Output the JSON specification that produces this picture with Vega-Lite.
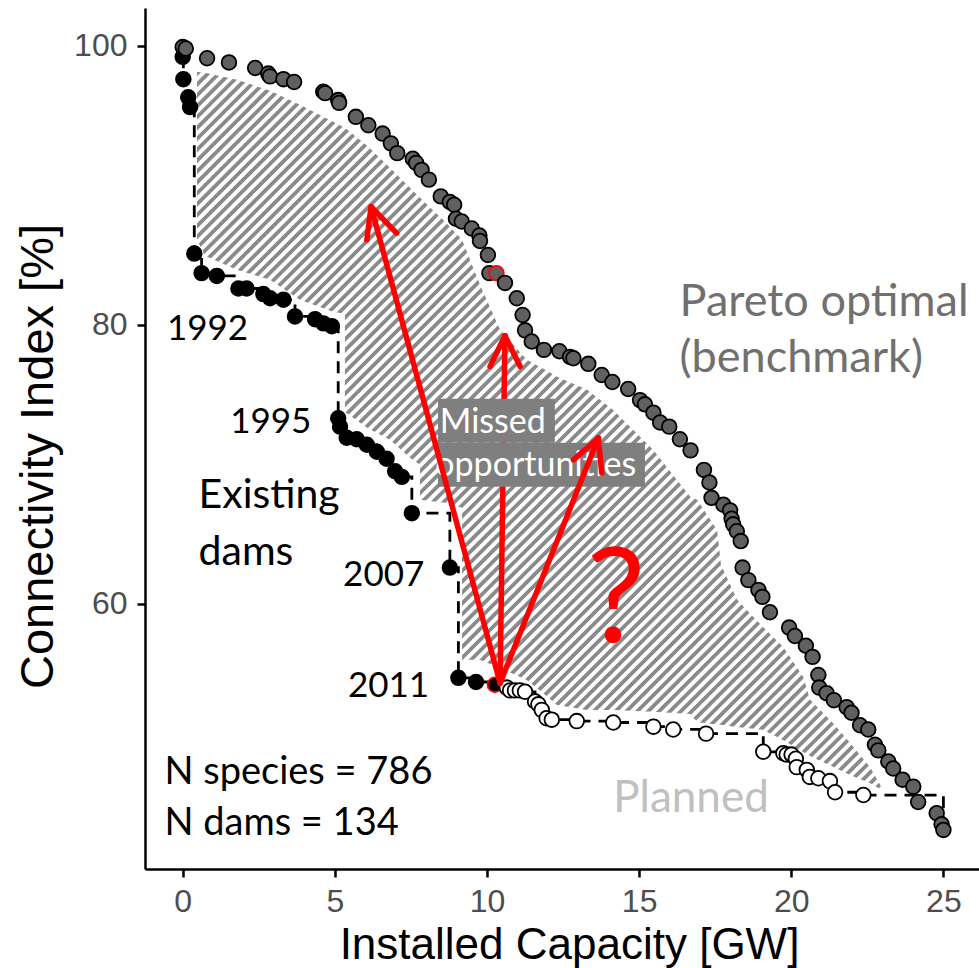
{
"$schema": "https://vega.github.io/schema/vega-lite/v6.json",
"width": 834, "height": 861,
"autosize": {"type": "none"},
"padding": {"left": 145, "top": 8, "right": 0, "bottom": 99},
"background": "white",
"config": {"view": {"stroke": null}, "axis": {"grid": false}},
"datasets": {
"upper": [
{"x":0.44,"y":98.14,"y2":102.7},
{"x":0.73,"y":98.06,"y2":102.7},
{"x":1.78,"y":97.56,"y2":102.7},
{"x":2.87,"y":96.77,"y2":102.7},
{"x":3.85,"y":95.77,"y2":102.7},
{"x":4.94,"y":94.55,"y2":102.7},
{"x":5.33,"y":94.12,"y2":102.7},
{"x":6.06,"y":92.83,"y2":102.7},
{"x":6.81,"y":91.25,"y2":102.7},
{"x":7.47,"y":89.82,"y2":102.7},
{"x":7.80,"y":89.10,"y2":102.7},
{"x":8.62,"y":87.38,"y2":102.7},
{"x":9.18,"y":86.09,"y2":102.7},
{"x":9.77,"y":82.87,"y2":102.7},
{"x":10.43,"y":79.64,"y2":102.7},
{"x":11.31,"y":77.49,"y2":102.7},
{"x":11.91,"y":76.77,"y2":102.7},
{"x":12.30,"y":76.27,"y2":102.7},
{"x":13.29,"y":75.34,"y2":102.7},
{"x":14.14,"y":73.91,"y2":102.7},
{"x":15.46,"y":71.04,"y2":102.7},
{"x":16.68,"y":67.67,"y2":102.7},
{"x":16.91,"y":67.46,"y2":102.7},
{"x":17.56,"y":65.30,"y2":102.7},
{"x":17.69,"y":62.80,"y2":102.7},
{"x":18.22,"y":60.29,"y2":102.7},
{"x":19.07,"y":58.35,"y2":102.7},
{"x":19.73,"y":56.92,"y2":102.7},
{"x":20.39,"y":54.77,"y2":102.7},
{"x":20.62,"y":53.12,"y2":102.7},
{"x":21.37,"y":51.47,"y2":102.7},
{"x":21.93,"y":50.04,"y2":102.7},
{"x":22.58,"y":48.32,"y2":102.7},
{"x":22.98,"y":46.81,"y2":102.7}
],
"lower": [
{"x":0.44,"y":86.24,"y2":41.0},
{"x":0.73,"y":84.95,"y2":41.0},
{"x":1.78,"y":83.94,"y2":41.0},
{"x":2.87,"y":83.23,"y2":41.0},
{"x":3.85,"y":81.79,"y2":41.0},
{"x":4.94,"y":80.93,"y2":41.0},
{"x":5.33,"y":80.79,"y2":41.0},
{"x":5.33,"y":73.76,"y2":41.0},
{"x":6.06,"y":72.62,"y2":41.0},
{"x":6.81,"y":71.76,"y2":41.0},
{"x":7.47,"y":70.47,"y2":41.0},
{"x":7.80,"y":69.96,"y2":41.0},
{"x":7.80,"y":67.46,"y2":41.0},
{"x":8.62,"y":67.24,"y2":41.0},
{"x":9.18,"y":66.88,"y2":41.0},
{"x":9.18,"y":55.99,"y2":41.0},
{"x":9.77,"y":55.99,"y2":41.0},
{"x":10.43,"y":55.41,"y2":41.0},
{"x":11.31,"y":54.55,"y2":41.0},
{"x":11.91,"y":53.48,"y2":41.0},
{"x":12.30,"y":52.76,"y2":41.0},
{"x":13.29,"y":52.40,"y2":41.0},
{"x":14.14,"y":52.40,"y2":41.0},
{"x":15.46,"y":52.26,"y2":41.0},
{"x":16.68,"y":52.11,"y2":41.0},
{"x":16.91,"y":51.54,"y2":41.0},
{"x":17.56,"y":51.33,"y2":41.0},
{"x":17.69,"y":51.33,"y2":41.0},
{"x":18.22,"y":51.18,"y2":41.0},
{"x":19.07,"y":50.97,"y2":41.0},
{"x":19.73,"y":50.25,"y2":41.0},
{"x":20.39,"y":49.39,"y2":41.0},
{"x":20.62,"y":49.10,"y2":41.0},
{"x":21.37,"y":48.32,"y2":41.0},
{"x":21.93,"y":47.74,"y2":41.0},
{"x":22.58,"y":47.17,"y2":41.0},
{"x":22.98,"y":46.67,"y2":41.0}
],
"band": [{"x":-1.07,"y":101.86,"x2":25.22,"y2":44.52}],
"sides": [{"x":-1.24,"x2":0.47,"y":41.0,"y2":102.7},{"x":22.95,"x2":26.17,"y":41.0,"y2":102.7}],
"pts": [
{"g":"existing","x":0.0,"y":99.2},
{"g":"existing","x":0.02,"y":97.6},
{"g":"existing","x":0.18,"y":96.3},
{"g":"existing","x":0.24,"y":95.6},
{"g":"existing","x":0.38,"y":85.1},
{"g":"existing","x":0.62,"y":83.7},
{"g":"existing","x":1.12,"y":83.5},
{"g":"existing","x":1.83,"y":82.6},
{"g":"existing","x":2.10,"y":82.6},
{"g":"existing","x":2.65,"y":82.2},
{"g":"existing","x":2.87,"y":81.9},
{"g":"existing","x":3.31,"y":81.8},
{"g":"existing","x":3.69,"y":80.6},
{"g":"existing","x":4.35,"y":80.4},
{"g":"existing","x":4.62,"y":80.1},
{"g":"existing","x":4.90,"y":79.9},
{"g":"existing","x":5.11,"y":73.3},
{"g":"existing","x":5.17,"y":72.7},
{"g":"existing","x":5.39,"y":71.9},
{"g":"existing","x":5.72,"y":71.8},
{"g":"existing","x":6.05,"y":71.4},
{"g":"existing","x":6.38,"y":70.9},
{"g":"existing","x":6.70,"y":70.4},
{"g":"existing","x":6.98,"y":69.5},
{"g":"existing","x":7.20,"y":69.1},
{"g":"existing","x":7.53,"y":66.5},
{"g":"existing","x":8.78,"y":62.6},
{"g":"existing","x":9.06,"y":54.7},
{"g":"existing","x":9.64,"y":54.4},
{"g":"existing","x":10.26,"y":54.2,"h":1},
{"g":"planned","x":10.65,"y":54.0},
{"g":"planned","x":10.76,"y":53.8},
{"g":"planned","x":10.92,"y":53.8},
{"g":"planned","x":11.08,"y":53.8},
{"g":"planned","x":11.25,"y":53.7},
{"g":"planned","x":11.58,"y":53.0},
{"g":"planned","x":11.69,"y":52.8},
{"g":"planned","x":11.80,"y":52.4},
{"g":"planned","x":11.96,"y":51.8},
{"g":"planned","x":12.13,"y":51.7},
{"g":"planned","x":12.95,"y":51.6},
{"g":"planned","x":14.15,"y":51.5},
{"g":"planned","x":15.47,"y":51.2},
{"g":"planned","x":16.12,"y":51.0},
{"g":"planned","x":17.20,"y":50.7},
{"g":"planned","x":19.08,"y":49.4},
{"g":"planned","x":19.74,"y":49.3},
{"g":"planned","x":19.85,"y":49.2},
{"g":"planned","x":20.01,"y":49.2},
{"g":"planned","x":20.15,"y":48.9},
{"g":"planned","x":20.18,"y":48.3},
{"g":"planned","x":20.51,"y":48.1},
{"g":"planned","x":20.61,"y":47.6},
{"g":"planned","x":20.89,"y":47.5},
{"g":"planned","x":21.27,"y":47.3},
{"g":"planned","x":21.44,"y":46.5},
{"g":"planned","x":22.37,"y":46.3},
{"g":"pareto","x":0.0,"y":99.9},
{"g":"pareto","x":0.1,"y":99.8},
{"g":"pareto","x":0.8,"y":99.1},
{"g":"pareto","x":1.52,"y":98.8},
{"g":"pareto","x":2.38,"y":98.4},
{"g":"pareto","x":2.81,"y":98.0},
{"g":"pareto","x":2.87,"y":97.8},
{"g":"pareto","x":3.31,"y":97.6},
{"g":"pareto","x":3.66,"y":97.4},
{"g":"pareto","x":4.62,"y":96.7},
{"g":"pareto","x":4.68,"y":96.6},
{"g":"pareto","x":5.11,"y":96.1},
{"g":"pareto","x":5.14,"y":95.9},
{"g":"pareto","x":5.69,"y":94.9},
{"g":"pareto","x":6.10,"y":94.3},
{"g":"pareto","x":6.57,"y":93.7},
{"g":"pareto","x":6.84,"y":93.0},
{"g":"pareto","x":7.05,"y":92.3},
{"g":"pareto","x":7.56,"y":91.9},
{"g":"pareto","x":7.67,"y":91.6},
{"g":"pareto","x":7.85,"y":91.1},
{"g":"pareto","x":8.09,"y":90.4},
{"g":"pareto","x":8.48,"y":89.2},
{"g":"pareto","x":8.78,"y":88.8},
{"g":"pareto","x":8.92,"y":88.6},
{"g":"pareto","x":8.98,"y":87.6},
{"g":"pareto","x":9.17,"y":87.4},
{"g":"pareto","x":9.50,"y":86.9},
{"g":"pareto","x":9.75,"y":86.4},
{"g":"pareto","x":9.77,"y":86.0},
{"g":"pareto","x":10.03,"y":85.0},
{"g":"pareto","x":10.08,"y":83.7},
{"g":"pareto","x":10.31,"y":83.7,"h":1},
{"g":"pareto","x":10.59,"y":83.0},
{"g":"pareto","x":10.98,"y":81.9},
{"g":"pareto","x":11.17,"y":80.7},
{"g":"pareto","x":11.25,"y":79.6},
{"g":"pareto","x":11.47,"y":78.8},
{"g":"pareto","x":11.87,"y":78.2},
{"g":"pareto","x":12.38,"y":78.1},
{"g":"pareto","x":12.73,"y":77.7},
{"g":"pareto","x":12.84,"y":77.6},
{"g":"pareto","x":13.33,"y":77.2},
{"g":"pareto","x":13.77,"y":76.4},
{"g":"pareto","x":14.12,"y":75.9},
{"g":"pareto","x":14.64,"y":75.4},
{"g":"pareto","x":15.03,"y":74.6},
{"g":"pareto","x":15.19,"y":74.3},
{"g":"pareto","x":15.47,"y":73.7},
{"g":"pareto","x":15.69,"y":73.0},
{"g":"pareto","x":15.99,"y":72.7},
{"g":"pareto","x":16.34,"y":71.8},
{"g":"pareto","x":16.69,"y":71.0},
{"g":"pareto","x":17.13,"y":69.6},
{"g":"pareto","x":17.31,"y":68.7},
{"g":"pareto","x":17.38,"y":67.6},
{"g":"pareto","x":17.77,"y":67.1},
{"g":"pareto","x":17.99,"y":66.7},
{"g":"pareto","x":18.04,"y":66.1},
{"g":"pareto","x":18.09,"y":65.7},
{"g":"pareto","x":18.21,"y":65.2},
{"g":"pareto","x":18.34,"y":64.5},
{"g":"pareto","x":18.40,"y":62.6},
{"g":"pareto","x":18.59,"y":61.7},
{"g":"pareto","x":18.92,"y":61.0},
{"g":"pareto","x":19.05,"y":60.5},
{"g":"pareto","x":19.30,"y":59.4},
{"g":"pareto","x":19.93,"y":58.3},
{"g":"pareto","x":20.12,"y":57.7},
{"g":"pareto","x":20.48,"y":57.0},
{"g":"pareto","x":20.70,"y":56.2},
{"g":"pareto","x":20.89,"y":54.9},
{"g":"pareto","x":20.92,"y":54.0},
{"g":"pareto","x":21.16,"y":53.6},
{"g":"pareto","x":21.40,"y":53.1},
{"g":"pareto","x":21.82,"y":52.6},
{"g":"pareto","x":21.98,"y":52.2},
{"g":"pareto","x":22.26,"y":51.3},
{"g":"pareto","x":22.53,"y":51.0},
{"g":"pareto","x":22.75,"y":49.9},
{"g":"pareto","x":22.86,"y":49.5},
{"g":"pareto","x":23.19,"y":48.7},
{"g":"pareto","x":23.35,"y":48.2},
{"g":"pareto","x":23.66,"y":47.4},
{"g":"pareto","x":24.01,"y":46.9},
{"g":"pareto","x":24.17,"y":45.8},
{"g":"pareto","x":24.78,"y":45.0},
{"g":"pareto","x":24.94,"y":44.2},
{"g":"pareto","x":25.0,"y":43.8},
{"g":"end","x":25.0,"y":43.8}
],
"arrows": [
{"a":1,"x":10.43,"y":54.32,"x2":6.19,"y2":88.46},
{"a":1,"x":6.19,"y":88.46,"x2":6.05,"y2":86.09},
{"a":1,"x":6.19,"y":88.46,"x2":7.03,"y2":86.57},
{"a":2,"x":10.43,"y":54.32,"x2":10.59,"y2":79.21},
{"a":2,"x":10.59,"y":79.21,"x2":10.10,"y2":77.01},
{"a":2,"x":10.59,"y":79.21,"x2":11.09,"y2":77.01},
{"a":3,"x":10.43,"y":54.32,"x2":13.66,"y2":71.88},
{"a":3,"x":13.66,"y":71.88,"x2":12.84,"y2":70.32},
{"a":3,"x":13.66,"y":71.88,"x2":13.77,"y2":69.37}
],
"boxes": [
{"x":8.39,"x2":12.23,"y":74.70,"y2":71.54},
{"x":8.39,"x2":15.19,"y":71.54,"y2":68.39}
],
"labels": [
{"k":"year","t":"1992","x":-0.52,"y":78.92},
{"k":"year","t":"1995","x":1.56,"y":72.26},
{"k":"year","t":"2007","x":5.27,"y":61.29},
{"k":"year","t":"2011","x":5.43,"y":53.35},
{"k":"big","t":"Existing","x":0.52,"y":66.88},
{"k":"big","t":"dams","x":0.52,"y":62.80},
{"k":"n","t":"N species = 786","x":-0.60,"y":47.10},
{"k":"n","t":"N dams = 134","x":-0.60,"y":43.44},
{"k":"pareto","t":"Pareto optimal","x":16.33,"y":80.60},
{"k":"pareto","t":"(benchmark)","x":16.33,"y":76.65},
{"k":"planned","t":"Planned","x":14.15,"y":45.11},
{"k":"missed","t":"Missed","x":8.45,"y":72.24},
{"k":"missed","t":"opportunities","x":8.30,"y":69.13},
{"k":"q","t":"?","x":14.24,"y":57.30}
]
},
"encoding": {
"x": {"field":"x","type":"quantitative","scale":{"domain":[-1.24,26.17],"nice":false,"zero":false},
 "axis":{"values":[0,5,10,15,20,25],"title":"Installed Capacity [GW]","zindex":1,"domainColor":"#000","domainWidth":2.5,"tickColor":"#000","tickWidth":2.5,"tickSize":8,"labelFont":"Liberation Sans","labelFontSize":32,"labelColor":"#4d4d4d","labelPadding":9,"labelFlush":false,"labelOverlap":false,"titleFont":"Liberation Sans","titleFontSize":44,"titleFontWeight":"normal","titleColor":"#000","titleX":424,"titleY":89,"titleBaseline":"alphabetic","titleAlign":"center","grid":false}},
"y": {"field":"y","type":"quantitative","scale":{"domain":[41.0,102.7],"nice":false,"zero":false},
 "axis":{"values":[60,80,100],"title":"Connectivity Index [%]","zindex":1,"domainColor":"#000","domainWidth":2.5,"tickColor":"#000","tickWidth":2.5,"tickSize":8,"labelFont":"Liberation Sans","labelFontSize":32,"labelColor":"#4d4d4d","labelPadding":10,"labelFlush":false,"labelOverlap":false,"titleFont":"Liberation Sans","titleFontSize":47,"titleFontWeight":"normal","titleColor":"#000","titleX":-93,"titleY":448,"titleAngle":-90,"titleBaseline":"alphabetic","titleAlign":"center","grid":false}}
},
"layer": [
{"data":{"name":"band"},
 "mark":{"type":"rule","color":"#8a8a8a","strokeWidth":1100,"strokeDash":[3.8,3.9],"strokeCap":"butt","clip":true},
 "encoding":{"x2":{"field":"x2"},"y2":{"field":"y2"}}},
{"data":{"name":"upper"},
 "mark":{"type":"area","fill":"#ffffff","fillOpacity":1,"opacity":1},
 "encoding":{"y2":{"field":"y2"}}},
{"data":{"name":"lower"},
 "mark":{"type":"area","fill":"#ffffff","fillOpacity":1,"opacity":1},
 "encoding":{"y2":{"field":"y2"}}},
{"data":{"name":"sides"},
 "mark":{"type":"rect","fill":"#ffffff","fillOpacity":1,"opacity":1},
 "encoding":{"x2":{"field":"x2"},"y2":{"field":"y2"}}},
{"data":{"name":"pts"},"transform":[{"filter":"datum.g != 'pareto'"}],
 "mark":{"type":"line","interpolate":"step-after","strokeDash":[12,8],"strokeWidth":2.8,"color":"#000"},
 "encoding":{}},
{"data":{"name":"pts"},"transform":[{"filter":"datum.g != 'end'"}],
 "mark":{"type":"point","shape":"circle","filled":true,"size":215,"strokeWidth":1.8,"opacity":1},
 "encoding":{
  "fill":{"field":"g","type":"nominal","scale":{"domain":["pareto","existing","planned"],"range":["#606060","#000000","#ffffff"]},"legend":null},
  "stroke":{"condition":{"test":"datum.h == 1","value":"#ff0000"},"value":"#000000"}}},
{"data":{"name":"arrows"},"transform":[{"filter":"datum.a == 2"}],
 "mark":{"type":"rule","color":"#ff0000","strokeWidth":5.5,"strokeCap":"round"},
 "encoding":{"x2":{"field":"x2"},"y2":{"field":"y2"}}},
{"data":{"name":"boxes"},
 "mark":{"type":"rect","fill":"#7f7f7f"},
 "encoding":{"x2":{"field":"x2"},"y2":{"field":"y2"}}},
{"data":{"name":"labels"},"transform":[{"filter":"datum.k == 'missed'"}],
 "mark":{"type":"text","font":"Lato","fontSize":34,"color":"#ffffff","align":"left","baseline":"alphabetic"},
 "encoding":{"text":{"field":"t"}}},
{"data":{"name":"arrows"},"transform":[{"filter":"datum.a != 2"}],
 "mark":{"type":"rule","color":"#ff0000","strokeWidth":5.5,"strokeCap":"round"},
 "encoding":{"x2":{"field":"x2"},"y2":{"field":"y2"}}},
{"data":{"name":"labels"},"transform":[{"filter":"datum.k == 'year'"}],
 "mark":{"type":"text","font":"Lato","fontSize":35,"color":"#000000","align":"left","baseline":"alphabetic"},
 "encoding":{"text":{"field":"t"}}},
{"data":{"name":"labels"},"transform":[{"filter":"datum.k == 'big'"}],
 "mark":{"type":"text","font":"Lato","fontSize":41,"color":"#000000","align":"left","baseline":"alphabetic"},
 "encoding":{"text":{"field":"t"}}},
{"data":{"name":"labels"},"transform":[{"filter":"datum.k == 'n'"}],
 "mark":{"type":"text","font":"Lato","fontSize":38,"color":"#000000","align":"left","baseline":"alphabetic"},
 "encoding":{"text":{"field":"t"}}},
{"data":{"name":"labels"},"transform":[{"filter":"datum.k == 'pareto'"}],
 "mark":{"type":"text","font":"Lato","fontSize":45,"color":"#707070","align":"left","baseline":"alphabetic"},
 "encoding":{"text":{"field":"t"}}},
{"data":{"name":"labels"},"transform":[{"filter":"datum.k == 'planned'"}],
 "mark":{"type":"text","font":"Lato","fontSize":44,"color":"#c0c0c0","align":"left","baseline":"alphabetic"},
 "encoding":{"text":{"field":"t"}}},
{"data":{"name":"labels"},"transform":[{"filter":"datum.k == 'q'"}],
 "mark":{"type":"text","font":"Lato","fontSize":132,"color":"#ff0000","align":"center","baseline":"alphabetic"},
 "encoding":{"text":{"field":"t"}}}
]
}
